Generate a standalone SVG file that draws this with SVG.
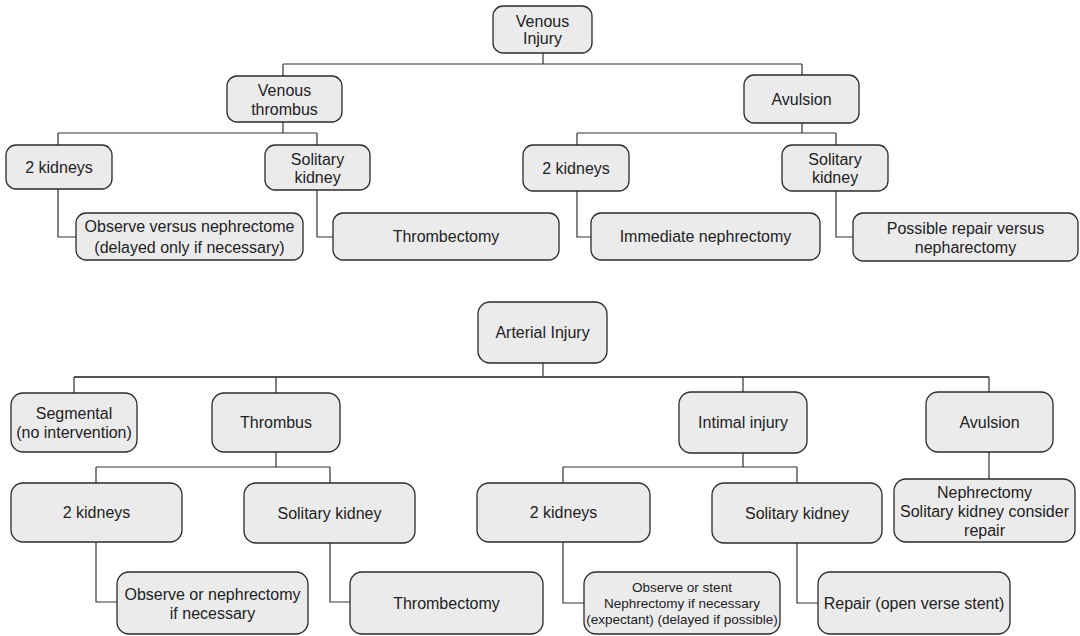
<svg xmlns="http://www.w3.org/2000/svg" width="1080" height="636" viewBox="0 0 1080 636">
  <style>
    .box { fill: #ebebeb; stroke: #2b2b2b; stroke-width: 1.3; }
    .lbl { font-family: "Liberation Sans", Arial, Helvetica, sans-serif; font-size: 16px; fill: #222; text-anchor: middle; dominant-baseline: central; }
    .sm { font-size: 13.5px; }
    .wire { fill: none; stroke: #333; stroke-width: 1.2; }
    .trunk { fill: none; stroke: #555; stroke-width: 2; }
  </style>
  <rect width="1080" height="636" fill="#ffffff"/>

  <!-- connectors -->
  <g id="connectors">
    <!-- venous tree -->
    <path class="wire" d="M543,53V64 M283,64H802 M283,64V76 M802,64V75"/>
    <path class="wire" d="M283,122V133 M58,133H317 M58,133V145 M317,133V145"/>
    <path class="wire" d="M802,123V133 M577,133H836 M577,133V145 M836,133V145"/>
    <path class="wire" d="M58,189V237H76 M317,190V237H333 M577,191V237H591 M836,191V237H853"/>
    <!-- arterial tree -->
    <path class="wire" d="M543,363V377"/>
    <path class="trunk" d="M74,377H989"/>
    <path class="wire" d="M74,377V393 M276,377V393 M743,377V392 M989,377V392"/>
    <path class="wire" d="M276,452V467 M96,467H330 M96,467V483 M330,467V483"/>
    <path class="wire" d="M743,453V467 M563,467H797 M563,467V483 M797,467V483"/>
    <path class="wire" d="M989,452V479"/>
    <path class="wire" d="M96,542V602H117 M330,543V602H350 M563,542V603H584 M797,543V603H818"/>
  </g>

  <!-- venous nodes -->
  <g id="v_root"><rect class="box" x="493" y="6" width="99" height="47" rx="10"/>
    <text class="lbl"><tspan x="542.5" y="21">Venous</tspan><tspan x="542.5" y="38">Injury</tspan></text></g>
  <g id="v_thrombus"><rect class="box" x="227" y="76" width="115" height="46" rx="10"/>
    <text class="lbl"><tspan x="284.5" y="90">Venous</tspan><tspan x="284.5" y="109">thrombus</tspan></text></g>
  <g id="v_avulsion"><rect class="box" x="744" y="75" width="115" height="48" rx="10"/>
    <text class="lbl" x="801.5" y="99">Avulsion</text></g>
  <g id="v_two_kidneys_a"><rect class="box" x="6" y="145" width="106" height="44" rx="10"/>
    <text class="lbl" x="59" y="167">2 kidneys</text></g>
  <g id="v_solitary_a"><rect class="box" x="265" y="145" width="105" height="45" rx="10"/>
    <text class="lbl"><tspan x="317.5" y="158.5">Solitary</tspan><tspan x="317.5" y="176.5">kidney</tspan></text></g>
  <g id="v_observe"><rect class="box" x="76" y="213" width="227" height="47" rx="10"/>
    <text class="lbl"><tspan x="189.5" y="226">Observe versus nephrectome</tspan><tspan x="189.5" y="247">(delayed only if necessary)</tspan></text></g>
  <g id="v_thrombectomy"><rect class="box" x="333" y="213" width="226" height="47" rx="10"/>
    <text class="lbl" x="446" y="236.5">Thrombectomy</text></g>
  <g id="v_two_kidneys_b"><rect class="box" x="523" y="145" width="106" height="46" rx="10"/>
    <text class="lbl" x="576" y="168">2 kidneys</text></g>
  <g id="v_solitary_b"><rect class="box" x="782" y="145" width="106" height="46" rx="10"/>
    <text class="lbl"><tspan x="835" y="158.5">Solitary</tspan><tspan x="835" y="177">kidney</tspan></text></g>
  <g id="v_immediate"><rect class="box" x="591" y="213" width="229" height="47" rx="10"/>
    <text class="lbl" x="705.5" y="236.5">Immediate nephrectomy</text></g>
  <g id="v_possible"><rect class="box" x="853" y="213" width="225" height="48" rx="10"/>
    <text class="lbl"><tspan x="965.5" y="228">Possible repair versus</tspan><tspan x="965.5" y="247">nepharectomy</tspan></text></g>

  <!-- arterial nodes -->
  <g id="a_root"><rect class="box" x="478" y="302" width="129" height="61" rx="12"/>
    <text class="lbl" x="542.5" y="332.5">Arterial Injury</text></g>
  <g id="a_segmental"><rect class="box" x="11" y="393" width="126" height="59" rx="12"/>
    <text class="lbl"><tspan x="74" y="413">Segmental</tspan><tspan x="74" y="432">(no intervention)</tspan></text></g>
  <g id="a_thrombus"><rect class="box" x="212" y="393" width="128" height="59" rx="12"/>
    <text class="lbl" x="276" y="422.5">Thrombus</text></g>
  <g id="a_intimal"><rect class="box" x="679" y="392" width="128" height="61" rx="12"/>
    <text class="lbl" x="743" y="422.5">Intimal injury</text></g>
  <g id="a_avulsion"><rect class="box" x="926" y="392" width="127" height="60" rx="12"/>
    <text class="lbl" x="989.5" y="422">Avulsion</text></g>
  <g id="a_two_kidneys_a"><rect class="box" x="11" y="483" width="171" height="59" rx="12"/>
    <text class="lbl" x="96.5" y="512.5">2 kidneys</text></g>
  <g id="a_solitary_a"><rect class="box" x="244" y="483" width="171" height="60" rx="12"/>
    <text class="lbl" x="329.5" y="513">Solitary kidney</text></g>
  <g id="a_observe"><rect class="box" x="117" y="572" width="191" height="62" rx="12"/>
    <text class="lbl"><tspan x="212.5" y="594">Observe or nephrectomy</tspan><tspan x="212.5" y="613">if necessary</tspan></text></g>
  <g id="a_thrombectomy"><rect class="box" x="350" y="572" width="193" height="62" rx="12"/>
    <text class="lbl" x="446.5" y="603">Thrombectomy</text></g>
  <g id="a_two_kidneys_b"><rect class="box" x="477" y="483" width="173" height="59" rx="12"/>
    <text class="lbl" x="563.5" y="512.5">2 kidneys</text></g>
  <g id="a_solitary_b"><rect class="box" x="712" y="483" width="170" height="60" rx="12"/>
    <text class="lbl" x="797" y="513">Solitary kidney</text></g>
  <g id="a_stent"><rect class="box" x="584" y="572" width="196" height="62" rx="12"/>
    <text class="lbl sm"><tspan x="682" y="587">Observe or stent</tspan><tspan x="682" y="603">Nephrectomy if necessary</tspan><tspan x="682" y="619">(expectant) (delayed if possible)</tspan></text></g>
  <g id="a_repair"><rect class="box" x="818" y="572" width="192" height="62" rx="12"/>
    <text class="lbl" x="914" y="603">Repair (open verse stent)</text></g>
  <g id="a_nephrectomy"><rect class="box" x="894" y="479" width="181" height="63" rx="12"/>
    <text class="lbl"><tspan x="984.5" y="492">Nephrectomy</tspan><tspan x="984.5" y="511">Solitary kidney consider</tspan><tspan x="984.5" y="530">repair</tspan></text></g>
</svg>
